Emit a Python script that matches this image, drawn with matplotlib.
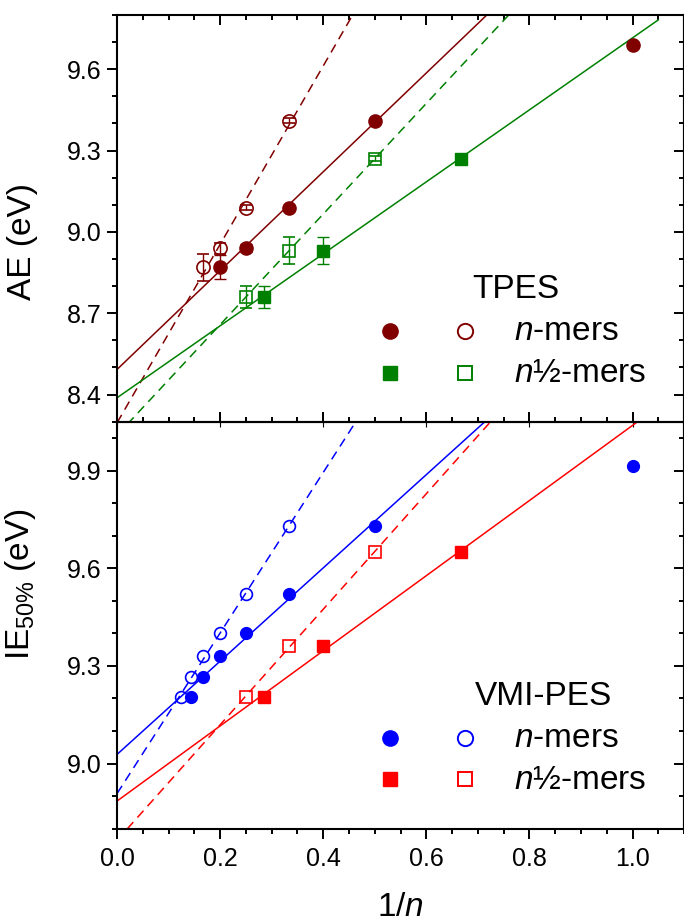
import numpy as np
import matplotlib
matplotlib.use('Agg')
import matplotlib.pyplot as plt
from matplotlib.ticker import MultipleLocator

plt.rcParams['font.family'] = ['Liberation Sans', 'DejaVu Sans']
plt.rcParams['mathtext.fontset'] = 'custom'
plt.rcParams['mathtext.rm'] = 'Liberation Sans'
plt.rcParams['mathtext.it'] = 'Liberation Sans:italic'

# TPES appearance energies
tpes_n_x = [1/2, 1/3, 1/4, 1/5]
tpes_n_y = [9.41, 9.09, 8.94, 8.87]
tpes_n_err = [0.005, 0.01, 0.015, 0.045]
tpes_n_shift_x = [1/3, 1/4, 1/5, 1/6]
tpes_n_shift_err = [0.01, 0.01, 0.02, 0.05]
tpes_mono_x = [1.0]
tpes_mono_y = [9.69]
tpes_h_x = [2/3, 2/5, 2/7]
tpes_h_y = [9.27, 8.93, 8.76]
tpes_h_err = [0.005, 0.05, 0.04]
tpes_h_shift_x = [1/2, 1/3, 1/4]
tpes_h_shift_err = [0.01, 0.05, 0.04]

# VMI-PES ionization energies (50 % onset)
vmi_n_x = [1/2, 1/3, 1/4, 1/5, 1/6, 1/7]
vmi_n_y = [9.73, 9.52, 9.40, 9.33, 9.265, 9.205]
vmi_n_shift_x = [1/3, 1/4, 1/5, 1/6, 1/7, 1/8]
vmi_mono_x = [1.0]
vmi_mono_y = [9.915]
vmi_h_x = [2/3, 2/5, 2/7]
vmi_h_y = [9.65, 9.36, 9.205]
vmi_h_shift_x = [1/2, 1/3, 1/4]

DRED = '#800000'
GREEN = '#008000'
BLUE = '#0000ff'
RED = '#ff0000'

xfit = np.linspace(0, 1.05, 50)


def fit_line(ax, x, y, color, ls):
    k, b = np.polyfit(x, y, 1)
    ax.plot(xfit, k * xfit + b, color=color, ls=ls, lw=1.1,
            dashes=(6, 4) if ls == '--' else (None, None), zorder=2)


def style_axis(ax, ylo, yhi):
    ax.set_xlim(0, 1.1)
    ax.set_ylim(ylo, yhi)
    ax.xaxis.set_major_locator(MultipleLocator(0.2))
    ax.xaxis.set_minor_locator(MultipleLocator(0.05))
    ax.yaxis.set_major_locator(MultipleLocator(0.3))
    ax.yaxis.set_minor_locator(MultipleLocator(0.1))
    for s in ax.spines.values():
        s.set_linewidth(1.5)
    ax.tick_params(which='both', width=1.4, labelsize=18)
    ax.tick_params(which='major', length=7.5)
    ax.tick_params(which='minor', length=3.8)
    ax.tick_params(axis='y', which='both', direction='out', left=True, right=False)
    ax.tick_params(axis='x', which='both', direction='in', top=True, bottom=False)
    sec = ax.secondary_yaxis('right')
    sec.yaxis.set_major_locator(MultipleLocator(0.3))
    sec.yaxis.set_minor_locator(MultipleLocator(0.1))
    sec.tick_params(which='both', direction='in', width=1.4, labelright=False)
    sec.tick_params(which='major', length=7.5)
    sec.tick_params(which='minor', length=3.8)
    sec.spines['right'].set_linewidth(1.5)


def key(ax, title, tx, fill_c, open_c, fill_s, open_s):
    t = ax.transAxes
    ax.text(tx, 0.326, title, transform=t, fontsize=24, va='center', ha='left')
    ax.plot([0.481], [0.223], 'o', color=fill_c, ms=11, transform=t, clip_on=False)
    ax.plot([0.614], [0.223], 'o', mfc='none', mec=open_c, mew=1.4, ms=11, transform=t)
    ax.plot([0.481], [0.121], 's', color=fill_s, ms=10.5, transform=t)
    ax.plot([0.614], [0.121], 's', mfc='none', mec=open_s, mew=1.4, ms=10, transform=t)
    ax.text(0.700, 0.221, '$n$-mers', transform=t, fontsize=24, va='center', ha='left')
    ax.text(0.700, 0.118, '$n$\u00bd-mers', transform=t, fontsize=24, va='center', ha='left')


fig = plt.figure(figsize=(6.84, 9.22), dpi=100)
ax1 = fig.add_axes([0.1711, 0.5426, 0.829, 0.4411])
ax2 = fig.add_axes([0.1711, 0.1012, 0.829, 0.4414])

# top panel: TPES
fit_line(ax1, tpes_n_x, tpes_n_y, DRED, '-')
fit_line(ax1, tpes_n_shift_x, tpes_n_y, DRED, '--')
fit_line(ax1, tpes_h_x, tpes_h_y, GREEN, '-')
fit_line(ax1, tpes_h_shift_x, tpes_h_y, GREEN, '--')
eb = dict(capsize=4.5, elinewidth=1.0, capthick=1.0, ls='none', zorder=3)
ax1.errorbar(tpes_n_x, tpes_n_y, yerr=tpes_n_err, fmt='o', color=DRED, ms=9.5, **eb)
ax1.errorbar(tpes_n_shift_x, tpes_n_y, yerr=tpes_n_shift_err, fmt='o', color=DRED,
             mfc='none', mew=1.2, ms=9.5, **eb)
ax1.plot(tpes_mono_x, tpes_mono_y, 'o', color=DRED, ms=9.5, zorder=3)
ax1.errorbar(tpes_h_x, tpes_h_y, yerr=tpes_h_err, fmt='s', color=GREEN, ms=8, **eb)
ax1.errorbar(tpes_h_shift_x, tpes_h_y, yerr=tpes_h_shift_err, fmt='s', color=GREEN,
             mfc='none', mew=1.2, ms=8.5, **eb)
style_axis(ax1, 8.3, 9.8)
ax1.tick_params(axis='x', labelbottom=False)
ax1.tick_params(axis='x', which='both', bottom=True, direction='in')
ax1.set_ylabel('AE (eV)', fontsize=24)
ax1.yaxis.set_label_coords(-0.14, 0.444)
key(ax1, 'TPES', 0.626, DRED, DRED, GREEN, GREEN)

# bottom panel: VMI-PES
fit_line(ax2, vmi_n_x, vmi_n_y, BLUE, '-')
fit_line(ax2, vmi_n_shift_x, vmi_n_y, BLUE, '--')
fit_line(ax2, vmi_h_x, vmi_h_y, RED, '-')
fit_line(ax2, vmi_h_shift_x, vmi_h_y, RED, '--')
ax2.plot(vmi_n_x, vmi_n_y, 'o', color=BLUE, ms=8.5, zorder=3)
ax2.plot(vmi_n_shift_x, vmi_n_y, 'o', color=BLUE, mfc='none', mew=1.2, ms=8.5, zorder=3)
ax2.plot(vmi_mono_x, vmi_mono_y, 'o', color=BLUE, ms=8.5, zorder=3)
ax2.plot(vmi_h_x, vmi_h_y, 's', color=RED, ms=8.5, zorder=3)
ax2.plot(vmi_h_shift_x, vmi_h_y, 's', color=RED, mfc='none', mew=1.2, ms=8, zorder=3)
style_axis(ax2, 8.8, 10.05)
ax2.tick_params(axis='x', which='both', bottom=True, labelbottom=True)
ax2.tick_params(axis='x', which='both', direction='out')
ax2.tick_params(axis='x', pad=6)
ax2.secondary_xaxis('top').tick_params(which='both', direction='in', labeltop=False)
ax2.set_ylabel('IE$_{50\\%}$ (eV)', fontsize=24)
ax2.yaxis.set_label_coords(-0.14, 0.60)
ax2.set_xlabel('1/$n$', fontsize=24, labelpad=15)
key(ax2, 'VMI-PES', 0.631, BLUE, BLUE, RED, RED)

fig.savefig('out.png', dpi=100)
